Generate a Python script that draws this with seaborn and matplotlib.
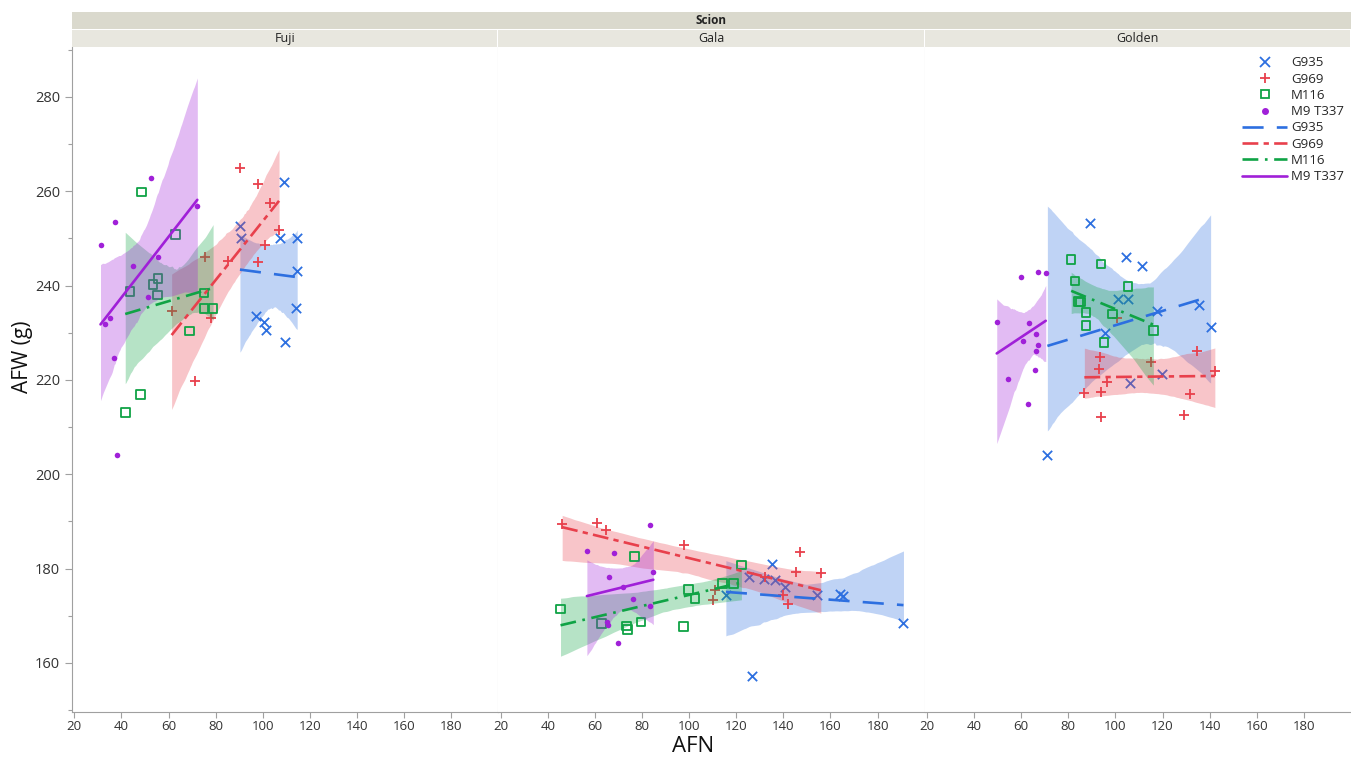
import numpy as np
import pandas as pd
import seaborn as sns
import matplotlib.pyplot as plt
from matplotlib.lines import Line2D
from matplotlib.patches import Rectangle
from matplotlib.collections import PolyCollection
from matplotlib.ticker import MultipleLocator

# ---- data: AFN (x) and AFW (y) per scion / rootstock ----
scions = ["Fuji", "Gala", "Golden"]
rootstocks = ["G935", "G969", "M116", "M9 T337"]

fuji_g935_afn = [90.3, 90.7, 109.0, 107.2, 114.6, 114.6, 114.0, 97.3, 100.5, 101.3, 109.3]
fuji_g935_afw = [252.6, 250.0, 262.0, 250.0, 250.0, 243.0, 235.2, 233.6, 232.2, 230.6, 228.0]
fuji_g969_afn = [90.3, 97.8, 103.1, 106.9, 100.8, 98.0, 85.1, 75.6, 61.3, 78.1, 71.4]
fuji_g969_afw = [264.9, 261.5, 257.6, 251.8, 248.6, 245.1, 245.3, 246.0, 234.7, 233.1, 219.7]
fuji_m116_afn = [48.5, 62.9, 43.6, 53.3, 55.5, 55.2, 75.0, 75.0, 78.9, 69.0, 48.2, 41.6]
fuji_m116_afw = [259.9, 250.9, 238.7, 240.3, 241.5, 238.0, 238.4, 235.2, 235.2, 230.4, 216.9, 213.1]
fuji_m9_afn = [52.6, 37.3, 31.1, 72.2, 55.4, 44.8, 51.4, 35.3, 32.9, 36.8, 38.1]
fuji_m9_afw = [262.8, 253.5, 248.7, 256.9, 246.0, 244.2, 237.6, 233.2, 231.8, 224.6, 204.0]

gala_g935_afn = [135.3, 125.5, 131.8, 136.6, 140.8, 154.2, 163.9, 165.5, 115.6, 191.0, 126.6]
gala_g935_afw = [180.9, 178.3, 177.9, 177.6, 176.1, 174.4, 174.6, 174.2, 174.4, 168.4, 157.2]
gala_g969_afn = [46.1, 60.8, 64.8, 97.8, 146.9, 145.2, 155.9, 132.3, 110.0, 111.0, 140.0, 142.1]
gala_g969_afw = [189.4, 189.6, 188.2, 185.0, 183.6, 179.3, 179.0, 178.2, 173.4, 175.5, 174.4, 172.5]
gala_m116_afn = [45.4, 62.7, 73.5, 73.9, 79.5, 76.7, 97.6, 99.7, 102.5, 114.2, 118.8, 122.2]
gala_m116_afw = [171.4, 168.4, 167.8, 167.1, 168.7, 182.6, 167.7, 175.6, 173.7, 176.8, 176.8, 180.8]
gala_m9_afn = [83.2, 56.6, 68.2, 84.8, 66.0, 72.1, 76.3, 83.3, 65.2, 65.6, 69.9]
gala_m9_afw = [189.3, 183.8, 183.4, 179.3, 178.3, 176.1, 173.5, 172.1, 168.7, 168.0, 164.2]

golden_g935_afn = [89.3, 104.3, 111.4, 101.1, 105.3, 117.6, 135.5, 140.4, 95.5, 119.8, 106.2, 71.1]
golden_g935_afw = [253.2, 246.1, 244.2, 237.1, 237.1, 234.6, 236.0, 231.3, 229.9, 221.2, 219.3, 204.1]
golden_g969_afn = [100.5, 134.5, 114.9, 142.2, 93.6, 93.1, 96.6, 86.8, 93.8, 131.5, 93.8, 129.3]
golden_g969_afw = [233.1, 226.2, 223.9, 221.8, 224.9, 222.3, 219.5, 217.3, 217.5, 217.0, 212.1, 212.6]
golden_m116_afn = [81.2, 93.8, 82.9, 105.3, 84.4, 85.1, 87.5, 98.7, 87.5, 116.1, 95.2]
golden_m116_afw = [245.6, 244.6, 241.0, 239.8, 236.6, 236.5, 234.3, 234.0, 231.5, 230.5, 227.9]
golden_m9_afn = [60.1, 67.2, 70.4, 49.6, 63.4, 66.2, 60.6, 67.2, 66.2, 65.8, 54.5, 62.9]
golden_m9_afw = [241.9, 242.8, 242.7, 232.2, 232.1, 229.7, 228.3, 227.4, 226.1, 222.1, 220.1, 215.0]

groups = {
    ("Fuji", "G935"): (fuji_g935_afn, fuji_g935_afw),
    ("Fuji", "G969"): (fuji_g969_afn, fuji_g969_afw),
    ("Fuji", "M116"): (fuji_m116_afn, fuji_m116_afw),
    ("Fuji", "M9 T337"): (fuji_m9_afn, fuji_m9_afw),
    ("Gala", "G935"): (gala_g935_afn, gala_g935_afw),
    ("Gala", "G969"): (gala_g969_afn, gala_g969_afw),
    ("Gala", "M116"): (gala_m116_afn, gala_m116_afw),
    ("Gala", "M9 T337"): (gala_m9_afn, gala_m9_afw),
    ("Golden", "G935"): (golden_g935_afn, golden_g935_afw),
    ("Golden", "G969"): (golden_g969_afn, golden_g969_afw),
    ("Golden", "M116"): (golden_m116_afn, golden_m116_afw),
    ("Golden", "M9 T337"): (golden_m9_afn, golden_m9_afw),
}
rows = []
for (sc, rs), (xs, ys) in groups.items():
    for x, y in zip(xs, ys):
        rows.append({"Scion": sc, "Rootstock": rs, "AFN": x, "AFW": y})
df = pd.DataFrame(rows)

# ---- styles ----
colors = {"G935": "#2d6fe0", "G969": "#e8404c", "M116": "#0fa345", "M9 T337": "#a020d8"}
markers = {"G935": "x", "G969": "+", "M116": "s", "M9 T337": "o"}
dashes = {"G935": (8, 5), "G969": (6, 2, 2, 2), "M116": (6, 2.5, 1, 2.5), "M9 T337": None}

sns.set_style("white")
plt.rcParams["font.family"] = ["Open Sans", "DejaVu Sans"]

fig = plt.figure(figsize=(13.51, 7.59), dpi=100)
W, H = 1351, 759
ax_left, ax_right, ax_top, ax_bot = 72, 1351, 47, 712
pw = (ax_right - ax_left) / 3
axes = []
for i in range(3):
    ax = fig.add_axes([(ax_left + i * pw) / W, 1 - ax_bot / H, pw / W, (ax_bot - ax_top) / H],
                      sharey=axes[0] if axes else None)
    axes.append(ax)

for ax, sc in zip(axes, scions):
    for rs in rootstocks:
        sub = df[(df.Scion == sc) & (df.Rootstock == rs)]
        c = colors[rs]
        if rs == "M116":
            skw = {"s": 38, "facecolors": "none", "edgecolors": c, "linewidths": 1.3, "alpha": 1}
        elif rs == "M9 T337":
            skw = {"s": 16, "linewidths": 0, "alpha": 1}
        else:
            skw = {"s": 45, "linewidths": 1.3, "alpha": 1}
        lkw = {"lw": 1.9}
        if dashes[rs] is not None:
            lkw["dashes"] = dashes[rs]
        sns.regplot(data=sub, x="AFN", y="AFW", ax=ax, color=c, marker=markers[rs],
                    ci=95, n_boot=1000, seed=3, truncate=True,
                    scatter_kws=skw, line_kws=lkw)
    for coll in ax.collections:
        if isinstance(coll, PolyCollection):
            coll.set_alpha(0.3)
            coll.set_linewidth(0)

    ax.set_xlim(19, 200)
    ax.set_xticks(range(20, 200, 20))
    ax.tick_params(axis="x", labelsize=9.5, colors="#333333", length=4, width=0.8,
                   direction="out", pad=1.5)
    ax.set_xlabel("")
    ax.set_ylabel("")
    for s in ["top", "left", "right"]:
        ax.spines[s].set_visible(False)
    ax.spines["bottom"].set_color("#a0a0a0")
    if sc != "Golden":
        ax.spines["right"].set_visible(True)
        ax.spines["right"].set_color("#d8d8d8")

axes[0].set_ylim(149.6, 290.6)
axes[0].set_yticks(range(160, 290, 20))
axes[0].yaxis.set_minor_locator(MultipleLocator(10))
axes[0].spines["left"].set_visible(True)
axes[0].spines["left"].set_color("#a0a0a0")
axes[0].tick_params(axis="y", which="major", labelsize=10.5, colors="#333333", length=5, width=0.8)
axes[0].tick_params(axis="y", which="minor", length=3, width=0.8, color="#a0a0a0", left=True)
axes[0].tick_params(axis="y", which="major", color="#a0a0a0", left=True)
for ax in axes[1:]:
    ax.tick_params(axis="y", left=False, labelleft=False, which="both")
for ax in axes:
    ax.tick_params(axis="x", color="#a0a0a0", bottom=True)

# ---- header strips ----
fig.add_artist(Rectangle((ax_left / W, 1 - 29 / H), (ax_right - ax_left) / W, 17 / H,
                         transform=fig.transFigure, facecolor="#dad9cd", edgecolor="none"))
fig.text((ax_left + ax_right) / 2 / W, 1 - 20.5 / H, "Scion", ha="center", va="center",
         fontsize=8.5, fontweight="bold", color="#222222")
for i, sc in enumerate(scions):
    x0 = ax_left + i * pw
    fig.add_artist(Rectangle((x0 / W, 1 - ax_top / H), (pw - 1) / W, 17 / H,
                             transform=fig.transFigure, facecolor="#e8e7df", edgecolor="none"))
    fig.text((x0 + pw / 2) / W, 1 - 38.5 / H, sc, ha="center", va="center",
             fontsize=9, color="#222222")

fig.text(0.513, 1 - 747 / H, "AFN", ha="center", va="center", fontsize=16, color="#111111")
fig.text(0.009, 0.53, "AFW (g)", ha="left", va="center", rotation=90, fontsize=15, color="#111111")

# ---- legend ----
handles = []
for rs in rootstocks:
    c = colors[rs]
    if rs == "M116":
        handles.append(Line2D([], [], ls="none", marker="s", mfc="none", mec=c, mew=1.3, ms=6))
    elif rs == "M9 T337":
        handles.append(Line2D([], [], ls="none", marker="o", color=c, ms=4))
    else:
        handles.append(Line2D([], [], ls="none", marker=markers[rs], color=c, mew=1.3, ms=7))
for rs in rootstocks:
    kw = {"color": colors[rs], "lw": 1.9}
    if dashes[rs] is not None:
        kw["dashes"] = dashes[rs]
    handles.append(Line2D([], [], **kw))
axes[2].legend(handles, rootstocks + rootstocks, loc="upper right", bbox_to_anchor=(1.005, 1.0),
               frameon=False, fontsize=9.5, handlelength=3.4, handletextpad=0.3,
               labelspacing=0.25, borderaxespad=0.3)

fig.savefig("out.png", dpi=100)
